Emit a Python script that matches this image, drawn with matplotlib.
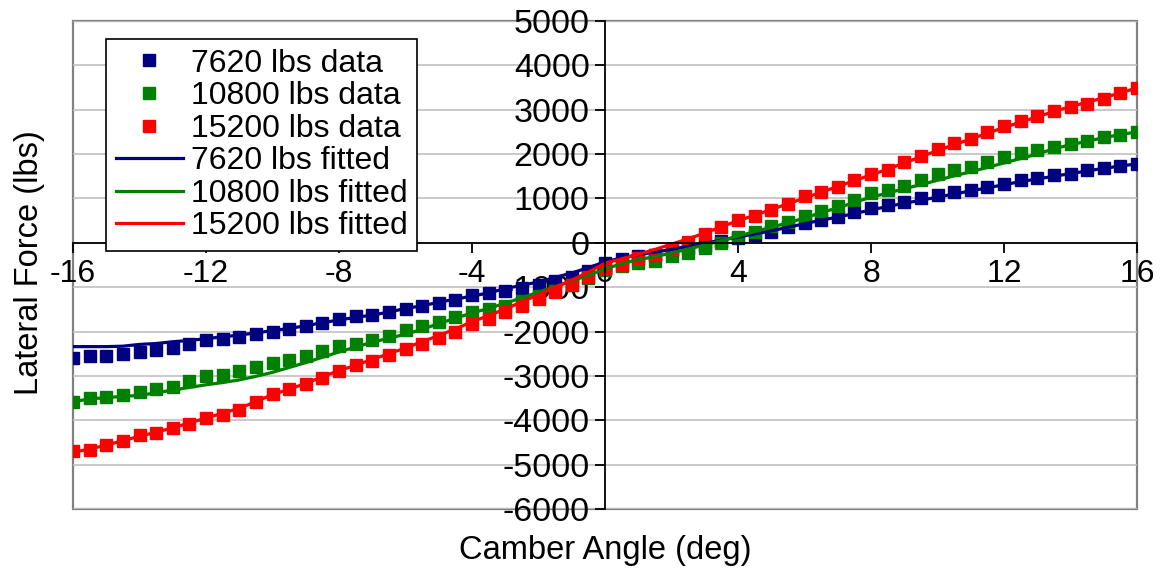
import numpy as np
import matplotlib.pyplot as plt
from matplotlib.patches import Rectangle

plt.rcParams['font.family'] = ['Liberation Sans', 'DejaVu Sans']
plt.rcParams['axes.unicode_minus'] = False

# camber angle (deg)
camber = [-16, -15.5, -15, -14.5, -14, -13.5, -13, -12.5, -12, -11.5, -11, -10.5,
          -10, -9.5, -9, -8.5, -8, -7.5, -7, -6.5, -6, -5.5, -5, -4.5,
          -4, -3.5, -3, -2.5, -2, -1.5, -1, -0.5, 0, 0.5, 1, 1.5,
          2, 2.5, 3, 3.5, 4, 4.5, 5, 5.5, 6, 6.5, 7, 7.5,
          8, 8.5, 9, 9.5, 10, 10.5, 11, 11.5, 12, 12.5, 13, 13.5,
          14, 14.5, 15, 15.5, 16]

# measured lateral force (lbs)
data_7620 = [-2600, -2560, -2540, -2500, -2470, -2420, -2360, -2270, -2200, -2170, -2130, -2060,
             -2000, -1950, -1880, -1800, -1720, -1660, -1620, -1560, -1490, -1430, -1360, -1290,
             -1180, -1130, -1080, -1010, -940, -870, -780, -640, -460, -370, -300, -270,
             -170, -110, -40, 30, 100, 180, 250, 350, 440, 520, 590, 700,
             790, 860, 920, 1000, 1070, 1140, 1190, 1260, 1330, 1420, 1470, 1530,
             1560, 1640, 1680, 1740, 1780]
data_10800 = [-3580, -3500, -3470, -3430, -3360, -3290, -3240, -3120, -3000, -2970, -2900, -2790,
              -2700, -2640, -2560, -2440, -2330, -2270, -2200, -2090, -1970, -1880, -1790, -1680,
              -1560, -1500, -1420, -1310, -1200, -1080, -960, -800, -620, -520, -460, -400,
              -300, -220, -110, 0, 130, 250, 370, 480, 610, 720, 830, 960,
              1120, 1200, 1290, 1420, 1540, 1640, 1720, 1830, 1940, 2030, 2090, 2160,
              2220, 2300, 2380, 2440, 2500]
data_15200 = [-4700, -4680, -4560, -4460, -4340, -4280, -4180, -4080, -3940, -3870, -3760, -3580,
              -3400, -3300, -3180, -3040, -2890, -2760, -2660, -2520, -2400, -2290, -2150, -2000,
              -1830, -1720, -1570, -1420, -1260, -1100, -950, -760, -560, -490, -350, -270,
              -130, 10, 200, 360, 520, 600, 750, 880, 1050, 1150, 1250, 1420,
              1540, 1650, 1820, 1960, 2120, 2250, 2330, 2490, 2640, 2740, 2850, 2980,
              3070, 3120, 3240, 3380, 3480]

# fitted lateral force (lbs)
fit_7620 = [-2340, -2340, -2340, -2330, -2290, -2270, -2230, -2200, -2160, -2120, -2080, -2030,
            -1980, -1930, -1870, -1800, -1740, -1680, -1630, -1560, -1480, -1420, -1340, -1270,
            -1200, -1130, -1030, -960, -880, -780, -680, -560, -430, -340, -270, -210,
            -150, -80, -10, 60, 130, 200, 270, 350, 430, 510, 580, 660,
            740, 820, 890, 960, 1030, 1100, 1170, 1240, 1310, 1380, 1440, 1500,
            1560, 1620, 1680, 1730, 1780]
fit_10800 = [-3580, -3520, -3490, -3460, -3440, -3380, -3320, -3260, -3200, -3150, -3090, -3010,
             -2920, -2810, -2700, -2580, -2460, -2350, -2240, -2150, -2060, -1950, -1820, -1700,
             -1580, -1480, -1360, -1240, -1110, -990, -860, -730, -590, -470, -380, -310,
             -230, -140, -50, 50, 150, 250, 350, 450, 560, 680, 790, 910,
             1030, 1120, 1220, 1310, 1410, 1510, 1600, 1700, 1800, 1900, 2000, 2120,
             2210, 2290, 2370, 2440, 2500]
fit_15200 = [-4720, -4650, -4560, -4460, -4360, -4270, -4170, -4060, -3950, -3840, -3730, -3580,
             -3420, -3300, -3170, -3020, -2880, -2760, -2630, -2500, -2370, -2230, -2090, -1940,
             -1780, -1640, -1490, -1330, -1170, -1000, -840, -660, -460, -360, -260, -150,
             -30, 90, 220, 360, 500, 620, 750, 880, 1010, 1140, 1270, 1400,
             1530, 1660, 1800, 1940, 2080, 2210, 2340, 2470, 2600, 2720, 2840, 2960,
             3070, 3170, 3270, 3380, 3490]

navy = '#000080'
green = '#008000'
red = '#ff0000'
fs = 23

fig = plt.figure(figsize=(11.61, 5.75), dpi=100)
ax = fig.add_axes([73/1161, 1-509/575, (1137-73)/1161, (509-21)/575])

ax.plot(camber, data_7620, 's', color=navy, ms=8.5, label='7620 lbs data')
ax.plot(camber, data_10800, 's', color=green, ms=8.5, label='10800 lbs data')
ax.plot(camber, data_15200, 's', color=red, ms=8.5, label='15200 lbs data')
ax.plot(camber, fit_7620, '-', color=navy, lw=2.3, label='7620 lbs fitted')
ax.plot(camber, fit_10800, '-', color=green, lw=2.3, label='10800 lbs fitted')
ax.plot(camber, fit_15200, '-', color=red, lw=2.3, label='15200 lbs fitted')

ax.set_xlim(-16, 16)
ax.set_ylim(-6000, 5000)
ax.set_xticks(np.arange(-16, 17, 4))
ax.set_yticks(np.arange(-6000, 5001, 1000))
ax.yaxis.grid(True, color='#c0c0c0', lw=1.2)
ax.set_axisbelow(True)

# axes crossing at zero, Excel style
ax.spines['left'].set_position(('data', 0))
ax.spines['bottom'].set_position(('data', 0))
ax.spines['left'].set_linewidth(1.3)
ax.spines['bottom'].set_linewidth(1.3)
ax.spines['top'].set_visible(False)
ax.spines['right'].set_visible(False)
ax.add_patch(Rectangle((0, 0), 1, 1, transform=ax.transAxes, fill=False,
                       edgecolor='#808080', lw=1.6, zorder=0.5, clip_on=False))
ax.tick_params(axis='both', direction='out', length=7, width=1.3)
ax.tick_params(axis='x', pad=5, labelsize=fs)
ax.tick_params(axis='y', pad=4, labelsize=24.5)

fig.text(30/1161, 1-263/575, 'Lateral Force (lbs)', rotation=90,
         ha='center', va='center', fontsize=23.5)
fig.text(605/1161, 1-550/575, 'Camber Angle (deg)', ha='center', va='center', fontsize=23.5)

leg = ax.legend(loc='upper left', bbox_to_anchor=((106-73)/1064, (509-39)/488),
                borderaxespad=0, fontsize=fs, fancybox=False, framealpha=1,
                edgecolor='black', numpoints=1, handlelength=2.1, handletextpad=0.25,
                labelspacing=0.08, borderpad=0.3)
leg.get_frame().set_linewidth(1.2)

fig.savefig('out.png', dpi=100)
